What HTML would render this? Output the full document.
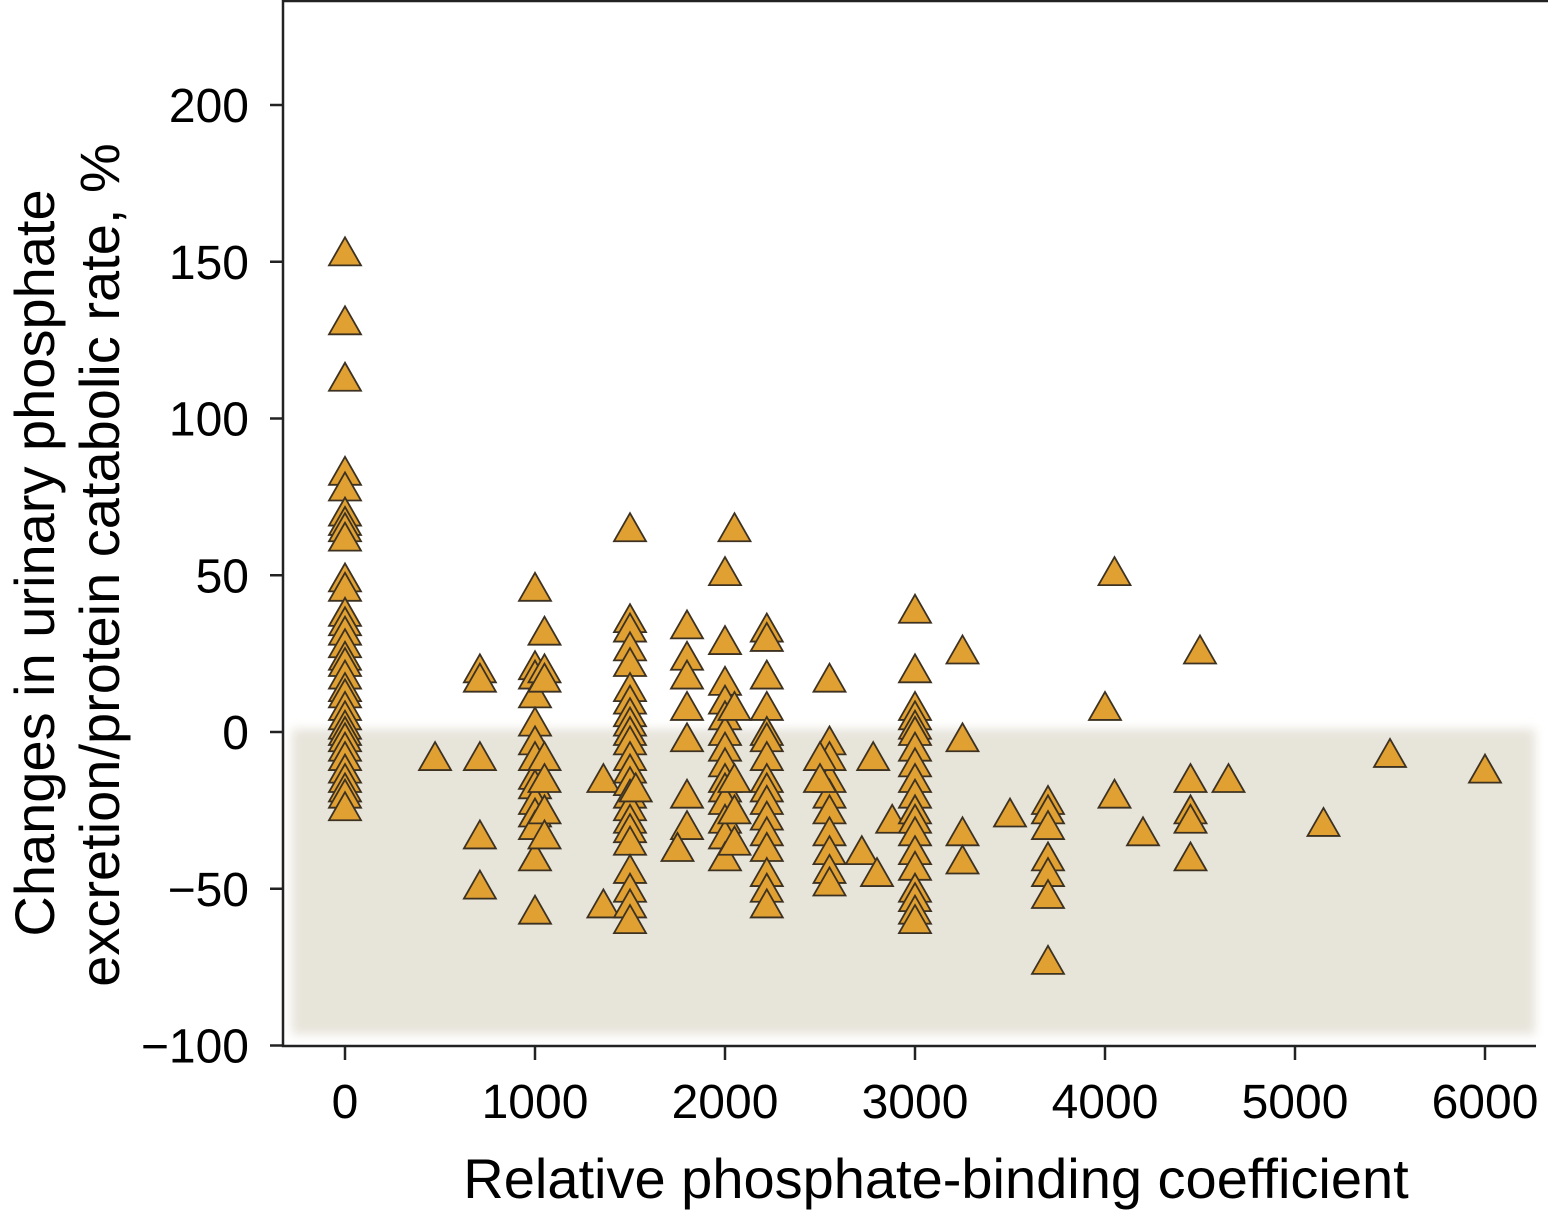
<!DOCTYPE html>
<html><head><meta charset="utf-8"><style>
html,body{margin:0;padding:0;background:#fff;}
svg{display:block;font-family:"Liberation Sans",Arial,sans-serif;}
</style></head><body>
<svg id="chart" width="1548" height="1225" viewBox="0 0 1548 1225" xmlns="http://www.w3.org/2000/svg">
<defs>
<filter id="blur" x="-5%" y="-5%" width="110%" height="110%"><feGaussianBlur stdDeviation="5"/></filter>
</defs>
<g id="bg"></g>
<g id="points"></g>
<g id="axes"></g>
<text x="936" y="1198" font-size="56" text-anchor="middle" fill="#000">Relative phosphate-binding coefficient</text>
<text transform="translate(54,563) rotate(-90)" font-size="56" text-anchor="middle" fill="#000">Changes in urinary phosphate</text>
<text transform="translate(119,565) rotate(-90)" font-size="56" text-anchor="middle" fill="#000">excretion/protein catabolic rate, %</text>
</svg>
<script>
const xTicks=[0,1000,2000,3000,4000,5000,6000];
const yTicks=[-100,-50,0,50,100,150,200];
const xValues=[
0,0,0,0,0,0,0,0,0,0,0,0,0,0,0,0,0,0,0,0,0,0,0,0,0,0,0,0,0,0,0,0,
474,
710,710,710,710,710,
1000,1000,1000,1000,1000,1000,1000,1000,1000,1000,1000,1000,1000,1000,
1050,1050,1050,1050,1050,1050,1050,
1360,1360,
1500,1500,1500,1500,1500,1500,1500,1500,1500,1500,1500,1500,1500,1500,1500,1500,1500,1500,1500,1500,1500,1500,1500,
1530,
1800,1800,1800,1800,1800,1800,1800,1750,
2000,2000,2000,2000,2000,2000,2000,2000,2000,2000,2000,2000,2000,2000,
2050,2050,2050,2050,2050,
2220,2220,2220,2220,2220,2220,2220,2220,2220,2220,2220,2220,2220,2220,2220,2220,
2550,2550,2550,2550,2550,2550,2550,2550,2550,2550,2500,2500,
2780,2720,2800,2880,
3000,3000,3000,3000,3000,3000,3000,3000,3000,3000,3000,3000,3000,3000,3000,3000,3000,3000,3000,
3250,3250,3250,3250,
3500,
3700,3700,3700,3700,3700,3700,3700,
4000,4050,4050,4200,
4450,4450,4450,4450,4500,4650,
5150,5500,6000];
const yValues=[
153,131,113,83,78,70,67,65,62,49,46,38,35,32,28,24,22,18,14,12,8,5,2,0,-2,-5,-8,-12,-15,-18,-20,-24,
-8,
20,17,-8,-33,-49,
46,21,18,12,3,-3,-8,-14,-17,-22,-26,-30,-40,-57,
32,20,17,-8,-15,-25,-33,
-15,-55,
65,36,33,27,22,14,10,6,3,0,-3,-8,-12,-16,-20,-24,-28,-31,-35,-44,-50,-55,-60,
-18,
34,24,18,8,-2,-20,-30,-37,
51,29,16,10,5,0,-5,-10,-15,-18,-22,-28,-33,-40,
65,8,-15,-25,-35,
33,30,18,8,0,-2,-8,-15,-18,-22,-27,-32,-37,-45,-50,-55,
17,-3,-8,-15,-20,-25,-32,-38,-44,-48,-8,-15,
-8,-38,-45,-28,
39,20,8,5,2,0,-5,-10,-15,-20,-25,-28,-32,-38,-43,-50,-53,-57,-60,
26,-2,-32,-41,
-26,
-22,-25,-30,-40,-45,-52,-73,
8,51,-20,-32,
-15,-25,-28,-40,26,-15,
-29,-7,-12];

const NS="http://www.w3.org/2000/svg";
function xs(v){return 345+v*0.19;}
function ys(v){return 732-v*3.135;}
function mk(tag,attrs,parent){const e=document.createElementNS(NS,tag);for(const k in attrs)e.setAttribute(k,attrs[k]);parent.appendChild(e);return e;}

const bg=document.getElementById('bg');
const shade=mk('rect',{x:292,y:ys(0)-3,width:1243,height:ys(-100)-ys(0)-8,fill:'#e7e4da',filter:'url(#blur)'},bg);



const pts=document.getElementById('points');
for(let i=0;i<xValues.length;i++){
  const cx=xs(xValues[i]),cy=ys(yValues[i]);
  const p=mk('polygon',{points:`${cx-16},${cy+13} ${cx+16},${cy+13} ${cx},${cy-15}`,fill:'#e0a032',stroke:'#3d3222','stroke-width':1.8,'stroke-linejoin':'miter'},pts);
  
  
}

const ax=document.getElementById('axes');
const frame=mk('path',{d:'M1548,1 L283,1 L283,1046 L1536,1046',fill:'none',stroke:'#222','stroke-width':2.5},ax);


yTicks.forEach(v=>{
  const y=ys(v);
  const t=mk('line',{x1:270,x2:283,y1:y,y2:y,stroke:'#222','stroke-width':2.5},ax);
  
  
  const l=mk('text',{x:249,y:y+17,'font-size':48,'text-anchor':'end',fill:'#000'},ax);
  l.textContent=v<0?'\u2212'+Math.abs(v):String(v);
  
  
});
xTicks.forEach(v=>{
  const x=xs(v);
  const t=mk('line',{x1:x,x2:x,y1:1046,y2:1060,stroke:'#222','stroke-width':2.5},ax);
  
  
  const l=mk('text',{x:x,y:1118,'font-size':48,'text-anchor':'middle',fill:'#000'},ax);
  l.textContent=String(v);
  
  
});
</script>
</body></html>
